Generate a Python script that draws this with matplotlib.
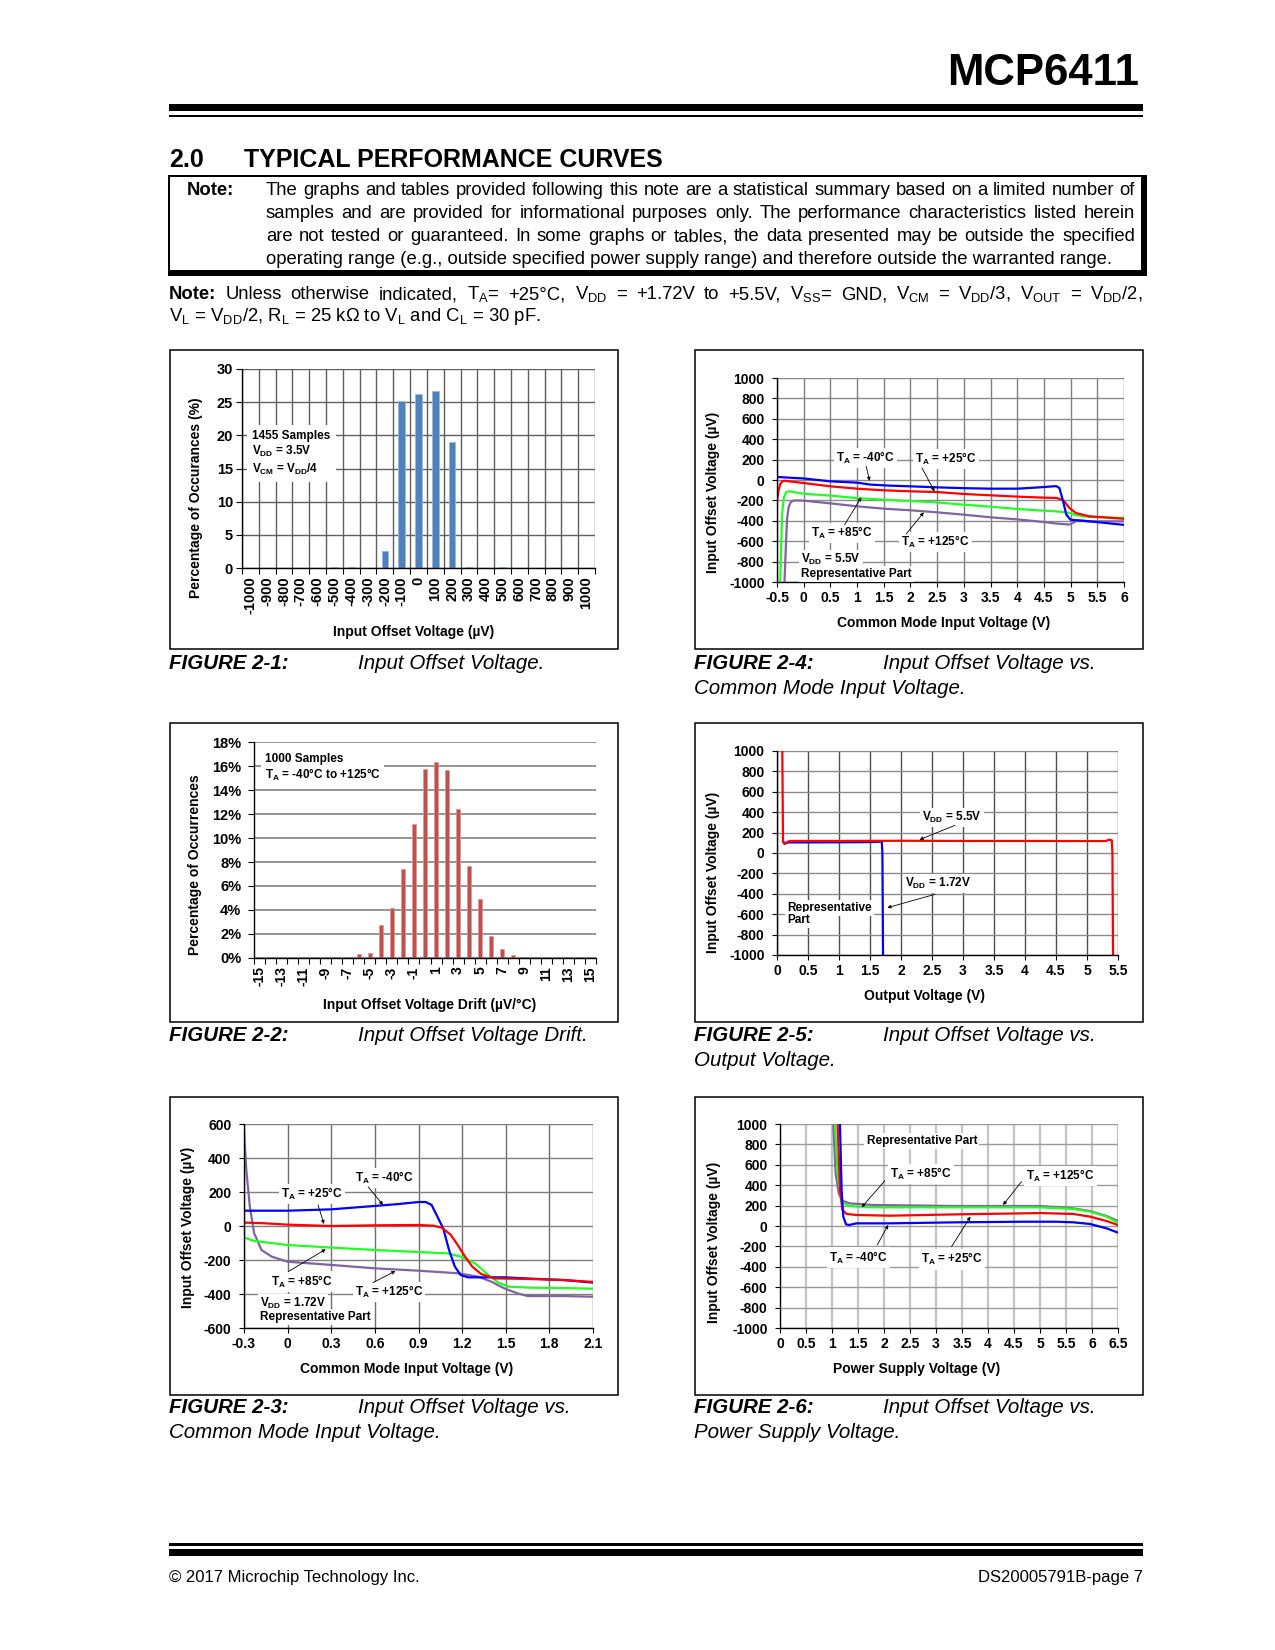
import matplotlib
matplotlib.use("Agg")
import matplotlib.pyplot as plt
from matplotlib.patches import Rectangle
import numpy as np

plt.rcParams['font.family'] = ['Liberation Sans', 'DejaVu Sans']
plt.rcParams['mathtext.default'] = 'regular'

# ---------------- data ----------------
# Figure 2-1 : histogram of input offset voltage
f1_bins = [-1000, -900, -800, -700, -600, -500, -400, -300, -200, -100, 0,
           100, 200, 300, 400, 500, 600, 700, 800, 900, 1000]
f1_pct = [0, 0, 0, 0, 0, 0.2, 0.2, 0, 2.6, 25.2, 26.3,
          26.7, 19.0, 0.2, 0, 0.2, 0, 0, 0, 0, 0]
f1_yticks = [0, 5, 10, 15, 20, 25, 30]

# Figure 2-2 : histogram of offset drift
f2_bins = [-15, -14, -13, -12, -11, -10, -9, -8, -7, -6, -5, -4, -3, -2, -1, 0,
           1, 2, 3, 4, 5, 6, 7, 8, 9, 10, 11, 12, 13, 14, 15]
f2_pct = [0, 0, 0, 0, 0, 0, 0, 0, 0, 0.33, 0.42, 2.75, 4.17, 7.42, 11.17, 15.75,
          16.36, 15.67, 12.44, 7.67, 4.92, 1.86, 0.75, 0.25, 0, 0, 0, 0, 0, 0, 0]
f2_xticks = [-15, -13, -11, -9, -7, -5, -3, -1, 1, 3, 5, 7, 9, 11, 13, 15]
f2_yticks = [0, 2, 4, 6, 8, 10, 12, 14, 16, 18]
f2_ylabels = ['0%', '2%', '4%', '6%', '8%', '10%', '12%', '14%', '16%', '18%']

# Figure 2-4 : Vos vs VCM, VDD = 5.5V
f4_xticks = [-0.5, 0, 0.5, 1, 1.5, 2, 2.5, 3, 3.5, 4, 4.5, 5, 5.5, 6]
f4_xlabels = ['-0.5', '0', '0.5', '1', '1.5', '2', '2.5', '3', '3.5', '4', '4.5', '5', '5.5', '6']
vos_ticks = [-1000, -800, -600, -400, -200, 0, 200, 400, 600, 800, 1000]
f4_m40_x = [-0.5, -0.25, 0.0, 0.5, 1.0, 1.25, 1.6, 2.0, 2.5, 3.0, 3.5, 4.0, 4.42, 4.73, 4.79, 4.86, 4.92, 5.0, 5.35, 6.0]
f4_m40_y = [30, 22, 15, -13, -26, -45, -55, -62, -72, -80, -85, -85, -72, -60, -78, -210, -340, -390, -405, -440]
f4_25_x = [-0.5, -0.47, -0.44, -0.40, -0.35, 0.0, 0.5, 1.0, 1.5, 2.0, 2.5, 3.0, 3.5, 4.0, 4.5, 4.73, 4.86, 4.98, 5.1, 5.35, 6.0]
f4_25_y = [-200, -100, -40, -12, -8, -30, -62, -85, -101, -111, -118, -137, -150, -163, -173, -176, -196, -275, -324, -356, -380]
f4_85_x = [-0.44, -0.42, -0.40, -0.37, -0.33, -0.28, 0.0, 0.5, 1.0, 1.5, 2.0, 2.5, 3.0, 3.5, 4.0, 4.5, 4.73, 4.98, 5.1, 5.35, 6.0]
f4_85_y = [-1000, -600, -307, -170, -120, -110, -135, -153, -178, -193, -206, -220, -242, -262, -284, -301, -307, -323, -345, -362, -372]
f4_125_x = [-0.36, -0.33, -0.31, -0.28, -0.24, -0.18, 0.0, 0.5, 1.0, 1.5, 2.0, 2.5, 3.0, 3.5, 4.0, 4.5, 4.73, 4.98, 5.13, 5.35, 6.0]
f4_125_y = [-1000, -600, -372, -260, -215, -200, -203, -229, -258, -281, -297, -317, -340, -366, -386, -412, -427, -437, -395, -405, -405]

# Figure 2-5 : Vos vs output voltage
f5_xticks = [0, 0.5, 1, 1.5, 2, 2.5, 3, 3.5, 4, 4.5, 5, 5.5]
f5_xlabels = ['0', '0.5', '1', '1.5', '2', '2.5', '3', '3.5', '4', '4.5', '5', '5.5']
f5_55_x = [0.086, 0.092, 0.097, 0.12, 0.15, 0.2, 1.0, 2.0, 3.0, 4.0, 5.0, 5.3, 5.36, 5.40, 5.41, 5.42]
f5_55_y = [1000, 500, 111, 98, 102, 118, 118, 120, 118, 118, 117, 117, 131, 124, 0, -1000]
f5_172_x = [0.097, 0.12, 0.18, 0.5, 1.0, 1.5, 1.66, 1.69, 1.70, 1.71]
f5_172_y = [112, 90, 104, 104, 105, 107, 111, 115, 0, -1000]

# Figure 2-3 : Vos vs VCM, VDD = 1.72V
f3_xticks = [-0.3, 0, 0.3, 0.6, 0.9, 1.2, 1.5, 1.8, 2.1]
f3_xlabels = ['-0.3', '0', '0.3', '0.6', '0.9', '1.2', '1.5', '1.8', '2.1']
f3_yticks = [-600, -400, -200, 0, 200, 400, 600]
f3_m40_x = [-0.3, 0.0, 0.3, 0.6, 0.76, 0.9, 0.95, 0.99, 1.03, 1.07, 1.11, 1.15, 1.19, 1.24, 1.35, 1.49, 1.68, 1.9, 2.1]
f3_m40_y = [90, 90, 98, 118, 129, 141, 141, 124, 55, -14, -141, -239, -288, -302, -302, -302, -310, -318, -333]
f3_25_x = [-0.3, -0.16, 0.0, 0.3, 0.6, 0.9, 1.0, 1.06, 1.12, 1.17, 1.22, 1.27, 1.33, 1.42, 1.68, 1.9, 2.1]
f3_25_y = [20, 16, 8, 0, 4, 6, 2, -10, -50, -112, -180, -239, -282, -308, -312, -318, -329]
f3_85_x = [-0.3, -0.23, 0.0, 0.3, 0.6, 0.9, 1.1, 1.19, 1.29, 1.38, 1.45, 1.52, 1.68, 1.9, 2.1]
f3_85_y = [-67, -88, -112, -127, -141, -153, -161, -180, -220, -288, -333, -357, -363, -365, -369]
f3_125_x = [-0.3, -0.284, -0.26, -0.23, -0.18, -0.11, 0.0, 0.3, 0.6, 0.9, 1.17, 1.31, 1.4, 1.49, 1.58, 1.65, 1.9, 2.1]
f3_125_y = [560, 329, 114, -43, -141, -180, -210, -229, -249, -263, -278, -298, -327, -367, -396, -412, -412, -416]

# Figure 2-6 : Vos vs supply voltage
f6_xticks = [0, 0.5, 1, 1.5, 2, 2.5, 3, 3.5, 4, 4.5, 5, 5.5, 6, 6.5]
f6_xlabels = ['0', '0.5', '1', '1.5', '2', '2.5', '3', '3.5', '4', '4.5', '5', '5.5', '6', '6.5']
f6_m40_x = [1.153, 1.185, 1.217, 1.27, 1.33, 1.47, 2.11, 3.39, 4.67, 5.32, 5.64, 5.96, 6.28, 6.5]
f6_m40_y = [1000, 353, 92, 16, 10, 26, 26, 36, 42, 42, 36, 20, -23, -65]
f6_25_x = [1.108, 1.153, 1.2, 1.28, 1.47, 2.11, 3.39, 4.67, 5.0, 5.64, 5.96, 6.28, 6.5]
f6_25_y = [1000, 353, 157, 118, 108, 101, 114, 124, 127, 118, 92, 49, 10]
f6_85_x = [1.057, 1.108, 1.166, 1.23, 1.34, 1.79, 3.39, 5.0, 5.64, 5.96, 6.28, 6.5]
f6_85_y = [1000, 516, 288, 222, 196, 183, 183, 183, 167, 141, 92, 33]
f6_125_x = [1.025, 1.07, 1.13, 1.2, 1.34, 1.79, 3.39, 5.0, 5.64, 5.96, 6.28, 6.5]
f6_125_y = [1000, 516, 320, 248, 222, 206, 196, 196, 173, 147, 98, 49]

C_BLUE, C_RED, C_GREEN, C_PURPLE = '#0000FF', '#FF0000', '#22FF22', '#8064A2'

# ---------------- page ----------------
W, H = 1275, 1650
fig = plt.figure(figsize=(W / 100, H / 100), dpi=100)
fig.patch.set_facecolor('white')
renderer = fig.canvas.get_renderer()


def fx(x):
    return x / W


def fy(y):
    return 1 - y / H


def rect(x0, y0, x1, y1, **kw):
    fig.add_artist(Rectangle((fx(x0), fy(y1)), (x1 - x0) / W, (y1 - y0) / H,
                             transform=fig.transFigure, **kw))


def ftext(x, y, s, **kw):
    return fig.text(fx(x), fy(y), s, **kw)


def justify_line(tokens, x0, x1, y, size):
    arts = [fig.text(0, fy(y), s, fontsize=size, fontweight=w, va='baseline', ha='left')
            for s, w in tokens]
    widths = [a.get_window_extent(renderer).width for a in arts]
    g = max((x1 - x0 - sum(widths)) / (len(arts) - 1), 2.5)
    x = x0
    for a, wd in zip(arts, widths):
        a.set_x(fx(x))
        x += wd + g


# header
ftext(1139, 85, 'MCP6411', fontsize=31.5, fontweight='bold', ha='right', va='baseline')
rect(169, 104, 1143, 111, color='black', lw=0)
rect(169, 115, 1143, 117, color='black', lw=0)
ftext(169, 167, '2.0', fontsize=18, fontweight='bold', va='baseline')
ftext(244, 167, 'TYPICAL PERFORMANCE CURVES', fontsize=18, fontweight='bold', va='baseline')

# note box
rect(168, 175, 1147, 276, color='black', lw=0)
rect(170, 177, 1141, 270, color='white', lw=0)
NS = 13.3
ftext(187, 195, 'Note:', fontsize=NS, fontweight='bold', va='baseline')
note_lines = [
    'The graphs and tables provided following this note are a statistical summary based on a limited number of',
    'samples and are provided for informational purposes only. The performance characteristics listed herein',
    'are not tested or guaranteed. In some graphs or tables, the data presented may be outside the specified',
]
for i, ln in enumerate(note_lines):
    justify_line([(w, 'normal') for w in ln.split(' ')], 266, 1135, 195 + 23 * i, NS)
ftext(266, 195 + 23 * 3,
      'operating range (e.g., outside specified power supply range) and therefore outside the warranted range.',
      fontsize=NS, va='baseline')

note2 = [('Note:', 'bold'), ('Unless', 'normal'), ('otherwise', 'normal'), ('indicated,', 'normal'),
         ('T$_A$=', 'normal'), ('+25°C,', 'normal'), ('V$_{DD}$', 'normal'), ('=', 'normal'),
         ('+1.72V', 'normal'), ('to', 'normal'), ('+5.5V,', 'normal'), ('V$_{SS}$=', 'normal'),
         ('GND,', 'normal'), ('V$_{CM}$', 'normal'), ('=', 'normal'), ('V$_{DD}$/3,', 'normal'),
         ('V$_{OUT}$', 'normal'), ('=', 'normal'), ('V$_{DD}$/2,', 'normal')]
justify_line(note2, 169, 1143, 299, NS)
ftext(169, 321, 'V$_L$ = V$_{DD}$/2, R$_L$ = 25 kΩ to V$_L$ and C$_L$ = 30 pF.', fontsize=NS, va='baseline')

# chart frames
for (x0, y0, x1, y1) in [(170, 350, 618, 649), (695, 350, 1143, 649),
                         (170, 723, 618, 1022), (695, 723, 1143, 1022),
                         (170, 1097, 618, 1395), (695, 1097, 1143, 1395)]:
    rect(x0, y0, x1, y1, fill=False, ec='black', lw=1.1)

# captions
CS = 14.8
captions = [
    (169, 669, 'FIGURE 2-1:', 358, ['Input Offset Voltage.']),
    (694, 669, 'FIGURE 2-4:', 883, ['Input Offset Voltage vs.', 'Common Mode Input Voltage.']),
    (169, 1041, 'FIGURE 2-2:', 358, ['Input Offset Voltage Drift.']),
    (694, 1041, 'FIGURE 2-5:', 883, ['Input Offset Voltage vs.', 'Output Voltage.']),
    (169, 1413, 'FIGURE 2-3:', 358, ['Input Offset Voltage vs.', 'Common Mode Input Voltage.']),
    (694, 1413, 'FIGURE 2-6:', 883, ['Input Offset Voltage vs.', 'Power Supply Voltage.']),
]
for x, y, lab, x2, lines in captions:
    ftext(x, y, lab, fontsize=CS, fontweight='bold', fontstyle='italic', va='baseline')
    ftext(x2, y, lines[0], fontsize=CS, fontstyle='italic', va='baseline')
    if len(lines) > 1:
        ftext(x, y + 25, lines[1], fontsize=CS, fontstyle='italic', va='baseline')

# footer
rect(169, 1543, 1143, 1546, color='black', lw=0)
rect(169, 1549, 1143, 1556, color='black', lw=0)
ftext(169, 1582, '© 2017 Microchip Technology Inc.', fontsize=12, va='baseline')
ftext(1143, 1582, 'DS20005791B-page 7', fontsize=12, va='baseline', ha='right')


# ---------------- helpers for charts ----------------
def make_ax(l, t, r, b):
    ax = fig.add_axes([fx(l), fy(b), (r - l) / W, (b - t) / H])
    for s in ('top', 'right'):
        ax.spines[s].set_visible(False)
    for s in ('left', 'bottom'):
        ax.spines[s].set_linewidth(1.0)
        ax.spines[s].set_color('black')
        ax.spines[s].set_zorder(4)
    ax.set_axisbelow(True)
    ax.set_facecolor('none')
    return ax


ANN = dict(fontsize=8.5, fontweight='bold', ha='left', va='center', zorder=6,
           bbox=dict(fc='white', ec='none', pad=1.5))


def arrow(ax, start, tip):
    ax.annotate('', xy=tip, xytext=start,
                arrowprops=dict(arrowstyle='-|>', color='black', lw=0.6,
                                mutation_scale=5, shrinkA=0, shrinkB=0), zorder=6)


def line_ax(l, t, r, b, xticks, xlabels, yticks, ylabels, vgrid='#7f7f7f', vlw=1.0,
            hgrid='#8a8a8a', hlw=1.0):
    ax = make_ax(l, t, r, b)
    ax.set_xlim(xticks[0], xticks[-1])
    ax.set_ylim(yticks[0], yticks[-1])
    ax.set_xticks(xticks, xlabels, fontsize=10, fontweight='bold')
    ax.set_yticks(yticks, ylabels, fontsize=10, fontweight='bold')
    ax.tick_params(axis='both', direction='out', length=3.5, width=0.8)
    ax.tick_params(axis='x', pad=3)
    ax.tick_params(axis='y', pad=5.5)
    ax.grid(axis='x', color=vgrid, lw=vlw)
    ax.grid(axis='y', color=hgrid, lw=hlw)
    return ax


vos_labels = [str(v) for v in vos_ticks]

# ---------------- Figure 2-1 ----------------
ax1 = make_ax(242, 369, 595, 568)
ax1.bar(f1_bins, f1_pct, width=40, color='#4F81BD', edgecolor='#9BB7DC', linewidth=0.6, zorder=3)
ax1.set_xlim(f1_bins[0] - 50, f1_bins[-1] + 50)
ax1.set_ylim(f1_yticks[0], f1_yticks[-1])
ax1.set_xticks(f1_bins, [str(v) for v in f1_bins], rotation=90, fontsize=10.5, fontweight='bold')
ax1.set_xticks(list(np.array(f1_bins) - 50) + [f1_bins[-1] + 50], minor=True)
ax1.set_yticks(f1_yticks, [str(v) for v in f1_yticks], fontsize=10.5, fontweight='bold')
ax1.tick_params(axis='x', which='major', length=0, pad=6)
ax1.tick_params(axis='x', which='minor', length=4, width=0.8)
ax1.tick_params(axis='y', length=4, width=0.8, pad=2.5)
ax1.grid(axis='x', which='minor', color='#5f5f5f', lw=1.0)
ax1.grid(axis='y', which='major', color='#5f5f5f', lw=1.0)
ax1.text(-990, 17.3, '1455 Samples\nV$_{DD}$ = 3.5V\nV$_{CM}$ = V$_{DD}$/4', fontsize=8.5,
         fontweight='bold', ha='left', va='center', linespacing=1.2, zorder=6,
         bbox=dict(fc='white', ec='none', pad=4))
ftext(196, 498, 'Percentage of Occurances (%)', fontsize=10, fontweight='bold', rotation=90,
      ha='center', va='center')
ftext(414, 632, 'Input Offset Voltage (µV)', fontsize=10, fontweight='bold', ha='center', va='center')

# ---------------- Figure 2-2 ----------------
ax2 = make_ax(254, 742, 596, 958)
ax2.bar(f2_bins, f2_pct, width=0.38, color='#C0504D', edgecolor='#D99694', linewidth=0.5, zorder=3)
ax2.set_xlim(f2_bins[0] - 0.5, f2_bins[-1] + 0.5)
ax2.set_ylim(f2_yticks[0], f2_yticks[-1])
ax2.set_xticks(f2_xticks, [str(v) for v in f2_xticks], rotation=90, fontsize=10, fontweight='bold')
ax2.set_xticks(list(np.array(f2_bins) - 0.5) + [f2_bins[-1] + 0.5], minor=True)
ax2.set_yticks(f2_yticks, f2_ylabels, fontsize=10.5, fontweight='bold')
ax2.tick_params(axis='x', which='major', length=0, pad=6)
ax2.tick_params(axis='x', which='minor', length=4, width=0.8)
ax2.tick_params(axis='y', length=4, width=0.8, pad=5)
ax2.grid(axis='y', color='#8c8c8c', lw=1.3)
ax2.text(-14.53, 15.85, '1000 Samples\nT$_A$ = -40°C to +125°C', fontsize=8.5, fontweight='bold',
         ha='left', va='center', linespacing=1.2, zorder=6, bbox=dict(fc='white', ec='none', pad=2.5))
ftext(195, 865, 'Percentage of Occurrences', fontsize=10, fontweight='bold', rotation=90,
      ha='center', va='center')
ftext(430, 1005, 'Input Offset Voltage Drift (µV/°C)', fontsize=10, fontweight='bold',
      ha='center', va='center')

# ---------------- Figure 2-4 ----------------
ax4 = line_ax(777, 378, 1124, 582, f4_xticks, f4_xlabels, vos_ticks, vos_labels)
ax4.plot(f4_125_x, f4_125_y, color=C_PURPLE, lw=1.6, zorder=3)
ax4.plot(f4_85_x, f4_85_y, color=C_GREEN, lw=1.6, zorder=3)
ax4.plot(f4_25_x, f4_25_y, color=C_RED, lw=1.6, zorder=3)
ax4.plot(f4_m40_x, f4_m40_y, color=C_BLUE, lw=1.6, zorder=3)
ax4.text(0.61, 216, 'T$_A$ = -40°C', **ANN)
arrow(ax4, (1.17, 134), (1.235, -8))
ax4.text(2.08, 209, 'T$_A$ = +25°C', **ANN)
arrow(ax4, (2.215, 118), (2.45, -111))
ax4.text(0.143, -520, 'T$_A$ = +85°C', **ANN)
arrow(ax4, (0.767, -438), (1.08, -170))
ax4.text(1.83, -608, 'T$_A$ = +125°C', **ANN)
arrow(ax4, (1.92, -529), (2.25, -317))
ax4.text(-0.044, -781, 'V$_{DD}$ = 5.5V', **ANN)
ax4.text(-0.044, -922, 'Representative Part', **ANN)
ftext(713, 492, 'Input Offset Voltage (µV)', fontsize=10, fontweight='bold', rotation=90,
      ha='center', va='center')
ftext(944, 623, 'Common Mode Input Voltage (V)', fontsize=10, fontweight='bold', ha='center', va='center')

# ---------------- Figure 2-5 ----------------
ax5 = line_ax(777, 751, 1118, 955, f5_xticks, f5_xlabels, vos_ticks, vos_labels,
              vgrid='#4f4f4f', hgrid='#8a8a8a')
ax5.plot(f5_172_x, f5_172_y, color=C_BLUE, lw=1.6, zorder=3)
ax5.plot(f5_55_x, f5_55_y, color=C_RED, lw=1.6, zorder=3)
ax5.text(2.34, 346, 'V$_{DD}$ = 5.5V', **ANN)
arrow(ax5, (2.87, 271), (2.30, 131))
ax5.text(2.06, -297, 'V$_{DD}$ = 1.72V', **ANN)
arrow(ax5, (2.55, -405), (1.78, -536))
ax5.text(0.16, -542, 'Representative', **ANN)
ax5.text(0.16, -657, 'Part', **ANN)
ftext(713, 872, 'Input Offset Voltage (µV)', fontsize=10, fontweight='bold', rotation=90,
      ha='center', va='center')
ftext(925, 996, 'Output Voltage (V)', fontsize=10, fontweight='bold', ha='center', va='center')

# ---------------- Figure 2-3 ----------------
ax3 = line_ax(244, 1124, 593, 1328, f3_xticks, f3_xlabels, f3_yticks, [str(v) for v in f3_yticks],
              vgrid='#6f6f6f', hgrid='#7f7f7f')
ax3.plot(f3_125_x, f3_125_y, color=C_PURPLE, lw=1.6, zorder=3)
ax3.plot(f3_85_x, f3_85_y, color=C_GREEN, lw=1.6, zorder=3)
ax3.plot(f3_m40_x, f3_m40_y, color=C_BLUE, lw=1.6, zorder=3)
ax3.plot(f3_25_x, f3_25_y, color=C_RED, lw=1.6, zorder=3)
ax3.text(0.461, 284, 'T$_A$ = -40°C', **ANN)
arrow(ax3, (0.553, 231), (0.656, 124))
ax3.text(-0.043, 188, 'T$_A$ = +25°C', **ANN)
arrow(ax3, (0.209, 124), (0.25, 12))
ax3.text(-0.112, -327, 'T$_A$ = +85°C', **ANN)
arrow(ax3, (0.003, -269), (0.262, -137))
ax3.text(0.461, -390, 'T$_A$ = +125°C', **ANN)
arrow(ax3, (0.587, -333), (0.741, -265))
ax3.text(-0.188, -455, 'V$_{DD}$ = 1.72V', **ANN)
ax3.text(-0.188, -535, 'Representative Part', **ANN)
ftext(188, 1227, 'Input Offset Voltage (µV)', fontsize=10, fontweight='bold', rotation=90,
      ha='center', va='center')
ftext(407, 1369, 'Common Mode Input Voltage (V)', fontsize=10, fontweight='bold', ha='center', va='center')

# ---------------- Figure 2-6 ----------------
ax6 = line_ax(780, 1124, 1118, 1328, f6_xticks, f6_xlabels, vos_ticks, vos_labels,
              vgrid='#c4c4c4', vlw=1.6, hgrid='#9a9a9a')
ax6.plot(f6_125_x, f6_125_y, color=C_PURPLE, lw=1.6, zorder=3)
ax6.plot(f6_85_x, f6_85_y, color=C_GREEN, lw=1.6, zorder=3)
ax6.plot(f6_25_x, f6_25_y, color=C_RED, lw=1.6, zorder=3)
ax6.plot(f6_m40_x, f6_m40_y, color=C_BLUE, lw=1.6, zorder=3)
ax6.text(1.665, 833, 'Representative Part', **ANN)
ax6.text(2.113, 510, 'T$_A$ = +85°C', **ANN)
arrow(ax6, (2.017, 444), (1.569, 183))
ax6.text(4.739, 490, 'T$_A$ = +125°C', **ANN)
arrow(ax6, (4.643, 435), (4.291, 206))
ax6.text(0.948, -310, 'T$_A$ = -40°C', **ANN)
arrow(ax6, (1.87, -186), (2.081, 10))
ax6.text(2.709, -327, 'T$_A$ = +25°C', **ANN)
arrow(ax6, (3.298, -203), (3.663, 92))
ftext(714, 1242, 'Input Offset Voltage (µV)', fontsize=10, fontweight='bold', rotation=90,
      ha='center', va='center')
ftext(917, 1369, 'Power Supply Voltage (V)', fontsize=10, fontweight='bold', ha='center', va='center')

fig.savefig('out.png', dpi=100, facecolor='white')
